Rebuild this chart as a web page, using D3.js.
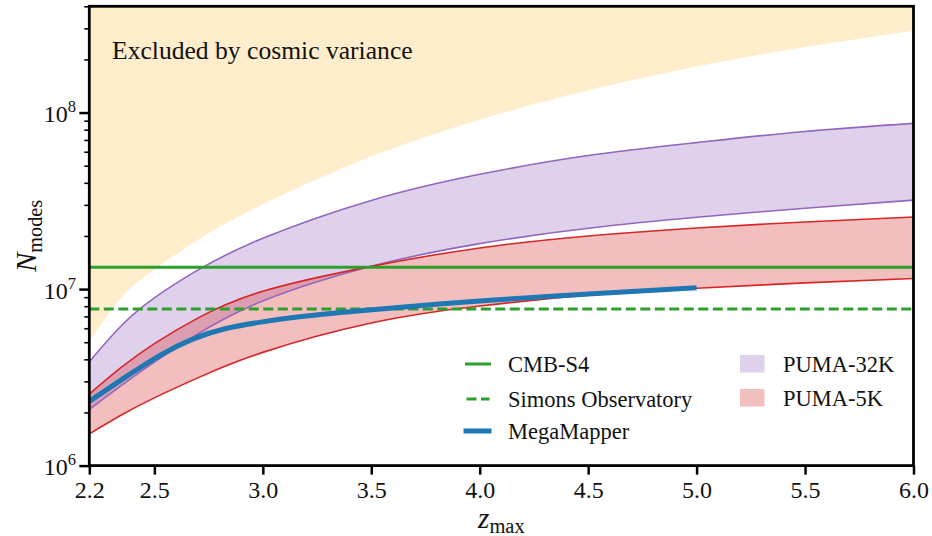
<!DOCTYPE html>
<html>
<head>
<meta charset="utf-8">
<script src="https://cdn.jsdelivr.net/npm/d3@7"></script>
<style>
  html, body { margin: 0; padding: 0; background: #fff; }
  svg { display: block; }
  text { font-family: "Liberation Serif", "DejaVu Serif", serif; fill: #111; }
</style>
</head>
<body>
<svg id="chart" width="932" height="536"></svg>
<script>
// ---------------- data ----------------
const zGrid = [2.2, 2.35, 2.5, 2.7, 3.0, 3.5, 4.0, 4.5, 5.0, 5.5, 6.0];
const cosmicVariance = [5.04e6, 9.02e6, 1.29e7, 1.9e7, 3.02e7, 5.63e7, 9.12e7, 1.336e8, 1.823e8, 2.35e8, 2.91e8];
const puma32Upper = [3.88e6, 6.24e6, 8.91e6, 1.28e7, 1.94e7, 3.18e7, 4.47e7, 5.71e7, 6.76e7, 7.82e7, 8.69e7];
const puma32Lower = [2.08e6, 2.86e6, 3.86e6, 5.57e6, 8.56e6, 1.346e7, 1.81e7, 2.21e7, 2.55e7, 2.87e7, 3.19e7];
const puma5Upper  = [2.54e6, 3.62e6, 4.91e6, 6.85e6, 9.72e6, 1.345e7, 1.71e7, 2.0e7, 2.22e7, 2.40e7, 2.56e7];
const puma5Lower  = [1.51e6, 1.94e6, 2.42e6, 3.14e6, 4.38e6, 6.43e6, 8.02e6, 9.22e6, 1.01e7, 1.084e7, 1.147e7];
const megaZ = [2.2, 2.37, 2.53, 2.68, 2.83, 2.99, 3.14, 3.45, 4.0, 4.5, 5.0];
const megaN = [2.31e6, 3.19e6, 4.24e6, 5.22e6, 5.98e6, 6.5e6, 6.9e6, 7.54e6, 8.56e6, 9.37e6, 1.019e7];
const cmbS4 = 1.33e7;
const simonsObs = 7.7e6;
const xTicks = [2.2, 2.5, 3.0, 3.5, 4.0, 4.5, 5.0, 5.5, 6.0];
const yMajorTicks = [1e6, 1e7, 1e8];
const yMajorExp = ["6", "7", "8"];
const yMinorTicks = [2e6,3e6,4e6,5e6,6e6,7e6,8e6,9e6,2e7,3e7,4e7,5e7,6e7,7e7,8e7,9e7,2e8,3e8,4e8];
const legendLines = ["CMB-S4", "Simons Observatory", "MegaMapper"];
const legendPatches = ["PUMA-32K", "PUMA-5K"];
const annotation = "Excluded by cosmic variance";

// ---------------- layout ----------------
const L = 89.3, R = 913.5, T = 6.3, B = 465.6;
const svg = d3.select("#chart");
const x = d3.scaleLinear().domain([2.2, 6.0]).range([L, R]);
const y = d3.scaleLog().domain([1e6, 4e8]).range([B, T]);

const C = {
  orange: "#FFEDCC",
  purple: "#9467bd", purpleFill: "#9467bd",
  red: "#d62728", redFill: "#d62728",
  green: "#2ca02c", blue: "#1f77b4"
};

svg.append("defs").append("clipPath").attr("id", "clip")
  .append("rect").attr("x", L).attr("y", T).attr("width", R - L).attr("height", B - T);

const plot = svg.append("g").attr("clip-path", "url(#clip)");

const rows = zGrid.map((z, i) => ({
  z, cv: cosmicVariance[i], p32u: puma32Upper[i], p32l: puma32Lower[i],
  p5u: puma5Upper[i], p5l: puma5Lower[i]
}));
const curve = d3.curveNatural;

// cosmic variance excluded region
plot.append("path").datum(rows)
  .attr("fill", C.orange)
  .attr("d", d3.area().curve(curve).x(d => x(d.z)).y0(0).y1(d => y(d.cv)));

// PUMA fills
plot.append("path").datum(rows)
  .attr("fill", C.purpleFill).attr("fill-opacity", 0.3)
  .attr("d", d3.area().curve(curve).x(d => x(d.z)).y0(d => y(d.p32l)).y1(d => y(d.p32u)));
plot.append("path").datum(rows)
  .attr("fill", C.redFill).attr("fill-opacity", 0.3)
  .attr("d", d3.area().curve(curve).x(d => x(d.z)).y0(d => y(d.p5l)).y1(d => y(d.p5u)));

const line = key => d3.line().curve(curve).x(d => x(d.z)).y(d => y(d[key]));
[["p32u", C.purple], ["p32l", C.purple], ["p5u", C.red], ["p5l", C.red]].forEach(([k, c]) => {
  plot.append("path").datum(rows).attr("fill", "none").attr("stroke", c)
    .attr("stroke-width", 1.6).attr("d", line(k));
});

// CMB lines
plot.append("line").attr("x1", x(2.2)).attr("x2", x(6.0))
  .attr("y1", y(cmbS4)).attr("y2", y(cmbS4))
  .attr("stroke", C.green).attr("stroke-width", 3);
plot.append("line").attr("x1", x(2.2)).attr("x2", x(6.0))
  .attr("y1", y(simonsObs)).attr("y2", y(simonsObs))
  .attr("stroke", C.green).attr("stroke-width", 3).attr("stroke-dasharray", "10,4.5");

// MegaMapper
plot.append("path").datum(megaZ.map((z, i) => ({ z, n: megaN[i] })))
  .attr("fill", "none").attr("stroke", C.blue).attr("stroke-width", 5)
  .attr("stroke-linecap", "butt")
  .attr("d", d3.line().curve(d3.curveNatural).x(d => x(d.z)).y(d => y(d.n)));

// annotation
svg.append("text").attr("x", 112).attr("y", 59).attr("font-size", 25.6).text(annotation);

// ---------------- axes ----------------
const xAxis = svg.append("g").attr("transform", `translate(0,${B})`)
  .call(d3.axisBottom(x).tickValues(xTicks).tickSize(9).tickFormat(d3.format(".1f")));
xAxis.select(".domain").remove();
xAxis.selectAll(".tick line").attr("stroke", "#000").attr("stroke-width", 2.5);
xAxis.selectAll(".tick text").attr("font-size", 24).attr("font-family", "Liberation Serif")
  .attr("fill", "#111").attr("y", 32).attr("dy", 0);

const yAxisMinor = svg.append("g").attr("transform", `translate(${L},0)`)
  .call(d3.axisLeft(y).tickValues(yMinorTicks).tickSize(5).tickFormat(""));
yAxisMinor.select(".domain").remove();
yAxisMinor.selectAll(".tick line").attr("stroke", "#000").attr("stroke-width", 1.6);

const yAxis = svg.append("g").attr("transform", `translate(${L},0)`)
  .call(d3.axisLeft(y).tickValues(yMajorTicks).tickSize(10).tickFormat(""));
yAxis.select(".domain").remove();
yAxis.selectAll(".tick line").attr("stroke", "#000").attr("stroke-width", 2.5);

yMajorTicks.forEach((v, i) => {
  const t = svg.append("text").attr("x", 76).attr("y", y(v) + 9.5)
    .attr("text-anchor", "end").attr("font-size", 24);
  t.append("tspan").text("10");
  t.append("tspan").attr("font-size", 16.5).attr("dy", -10).text(yMajorExp[i]);
});

// frame
svg.append("rect").attr("x", L).attr("y", T).attr("width", R - L).attr("height", B - T)
  .attr("fill", "none").attr("stroke", "#000").attr("stroke-width", 2.8);

// axis labels
const xl = svg.append("text").attr("x", (L + R) / 2).attr("y", 528).attr("text-anchor", "middle");
xl.append("tspan").attr("font-style", "italic").attr("font-size", 29).text("z");
xl.append("tspan").attr("font-size", 20.5).attr("dy", 5).text("max");

const yl = svg.append("text").attr("transform", `translate(36,${(T + B) / 2}) rotate(-90)`)
  .attr("text-anchor", "middle");
yl.append("tspan").attr("font-style", "italic").attr("font-size", 29).text("N");
yl.append("tspan").attr("font-size", 20.3).attr("dy", 6).text("modes");

// ---------------- legend ----------------
const lg = svg.append("g");
const lineRowsY = [364, 399, 431];
const lineStyles = [
  { stroke: C.green, w: 3, dash: null, cap: "square" },
  { stroke: C.green, w: 3, dash: "10,4.5", cap: "butt" },
  { stroke: C.blue, w: 5, dash: null, cap: "square" }
];
legendLines.forEach((name, i) => {
  const s = lineStyles[i];
  const ly = lineRowsY[i];
  lg.append("line").attr("x1", i === 2 ? 466 : 466.5).attr("x2", i === 2 ? 489 : 489.5)
    .attr("y1", ly).attr("y2", ly)
    .attr("stroke", s.stroke).attr("stroke-width", s.w)
    .attr("stroke-linecap", s.cap).attr("stroke-dasharray", s.dash);
  lg.append("text").attr("x", 508).attr("y", ly + 8).attr("font-size", 22.5).text(name);
});
const patchY = [364, 398];
const patchColors = [C.purpleFill, C.redFill];
legendPatches.forEach((name, i) => {
  lg.append("rect").attr("x", 740).attr("y", patchY[i] - 9).attr("width", 24.5).attr("height", 17.5)
    .attr("fill", patchColors[i]).attr("fill-opacity", 0.3);
  lg.append("text").attr("x", 783).attr("y", patchY[i] + 8).attr("font-size", 22.5).text(name);
});
</script>
</body>
</html>
